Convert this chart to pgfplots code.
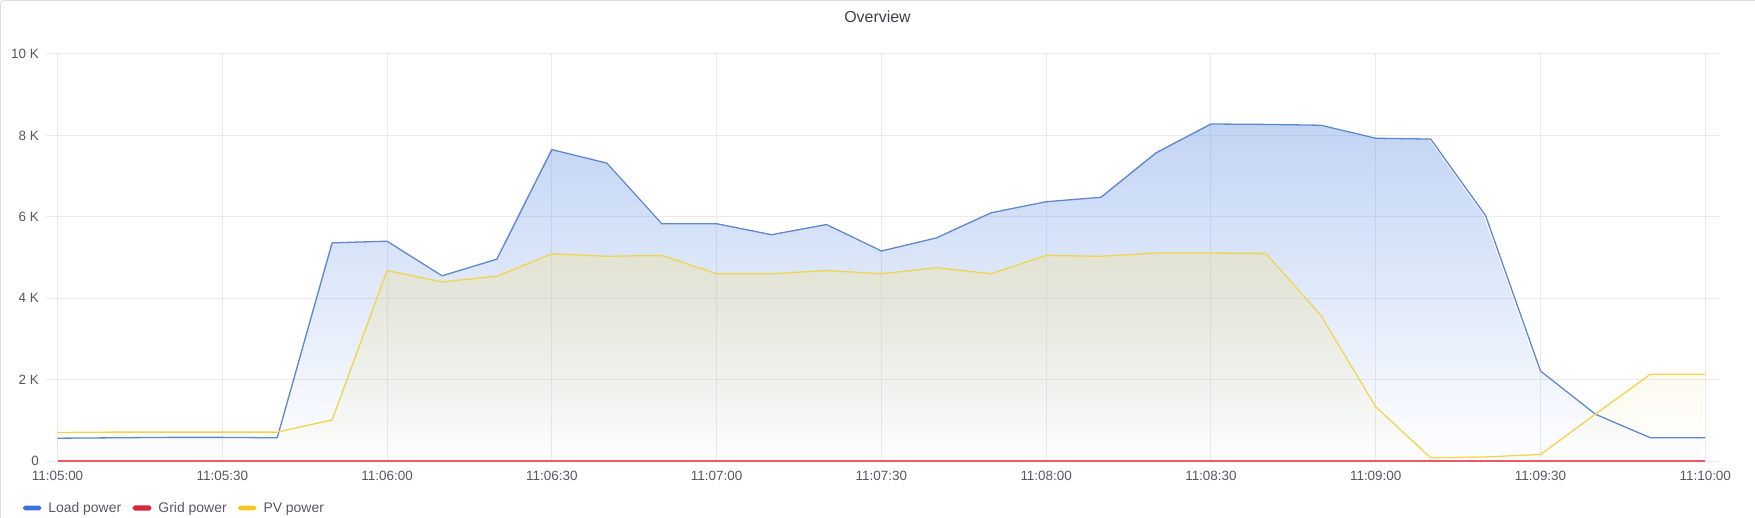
\documentclass[border=0pt]{standalone}
\usepackage{fontspec}
\setmainfont{Liberation Sans}
\usepackage{pgfplots}
\pgfplotsset{compat=1.18}
\usetikzlibrary{fadings}
\tikzfading[name=fadedown, top color=transparent!0, bottom color=transparent!100]
\definecolor{loadline}{RGB}{95,135,205}
\definecolor{loadfill}{RGB}{115,157,230}
\definecolor{pvline}{RGB}{240,212,80}
\definecolor{pvfill}{RGB}{240,225,150}
\definecolor{gridline}{RGB}{235,90,100}
\definecolor{legblue}{RGB}{60,115,220}
\definecolor{legred}{RGB}{215,40,60}
\definecolor{legyellow}{RGB}{240,200,30}
\definecolor{labelgray}{RGB}{85,88,95}
\definecolor{titlegray}{RGB}{60,64,70}
\definecolor{gridgray}{RGB}{234,234,236}
\definecolor{panel}{RGB}{222,222,226}

\pgfplotstableread{
t load
0 560
10 570
20 580
30 580
40 570
50 5360
60 5400
70 4550
80 4960
90 7650
100 7320
110 5830
120 5830
130 5560
140 5810
150 5160
160 5480
170 6100
180 6370
190 6480
200 7570
210 8280
220 8270
230 8250
240 7930
250 7910
260 6030
270 2210
280 1150
290 570
300 570
}\loaddata

\pgfplotstableread{
t pv
0 700
10 710
20 710
30 710
40 710
50 1010
60 4680
70 4400
80 4540
90 5090
100 5030
110 5050
120 4600
130 4600
140 4680
150 4600
160 4750
170 4600
180 5050
190 5030
200 5110
210 5110
220 5100
230 3580
240 1330
250 80
260 100
270 160
280 1150
290 2130
300 2130
}\pvdata

\pgfplotstableread{
t grid
0 0
10 0
20 0
30 0
40 0
50 0
60 0
70 0
80 0
90 0
100 0
110 0
120 0
130 0
140 0
150 0
160 0
170 0
180 0
190 0
200 0
210 0
220 0
230 0
240 0
250 0
260 0
270 0
280 0
290 0
300 0
}\griddata

\begin{document}
\begin{tikzpicture}
\path[use as bounding box] (-46bp,-57bp) rectangle (1709bp,461bp);
\draw[panel, line width=1bp, rounded corners=3bp] (-45.5bp,-60bp) -- (-45.5bp,460.5bp) -- (1712bp,460.5bp);
\begin{axis}[
  scale only axis,
  width=1673bp, height=407bp,
  at={(0,0)}, anchor=south west,
  xmin=-2.1, xmax=302.5,
  ymin=0, ymax=10000,
  clip=false,
  axis line style={draw=none},
  tick style={draw=none},
  major tick length=0pt,
  grid=major,
  major grid style={gridgray, line width=1bp},
  xtick={0,30,...,300},
  xticklabels={11:05:00,11:05:30,11:06:00,11:06:30,11:07:00,11:07:30,11:08:00,11:08:30,11:09:00,11:09:30,11:10:00},
  ytick={0,2000,4000,6000,8000,10000},
  yticklabels={0,2 K,4 K,6 K,8 K,10 K},
  scaled y ticks=false,
  /pgf/number format/assume math mode=true,
  ticklabel style={font=\fontsize{13.5}{16}\selectfont, text=labelgray},
  xticklabel style={anchor=center, inner sep=0pt, yshift=-15bp},
  yticklabel style={anchor=east, inner sep=0pt, xshift=-7bp},
  legend columns=-1,
  legend style={at={(0,0)}, anchor=west, xshift=-23bp, yshift=-47bp,
    draw=none, fill=none, inner sep=0pt, outer sep=0pt,
    font=\fontsize{14}{16}\selectfont, text=labelgray,
    nodes={inner sep=0pt},
    /tikz/every odd column/.append style={column sep=7bp},
    /tikz/every even column/.append style={column sep=11.5bp}},
]
% fills
\addplot[draw=none, fill=loadfill, fill opacity=0.44, path fading=fadedown, forget plot]
  table[x=t, y=load] {\loaddata} \closedcycle;
\addplot[draw=none, fill=pvfill, fill opacity=0.38, path fading=fadedown, forget plot]
  table[x=t, y=pv] {\pvdata} \closedcycle;
% lines
\addplot[loadline, line width=1.3bp, line join=round,
  legend image code/.code={\fill[legblue, rounded corners=1.5bp] (0bp,-1.7bp) rectangle (17bp,1.7bp);}]
  table[x=t, y=load] {\loaddata};
\addlegendentry{Load power}
\addplot[gridline, line width=1.8bp,
  legend image code/.code={\fill[legred, rounded corners=1.5bp] (0bp,-1.7bp) rectangle (17bp,1.7bp);}]
  table[x=t, y=grid] {\griddata};
\addlegendentry{Grid power}
\addplot[pvline, line width=1.3bp, line join=round,
  legend image code/.code={\fill[legyellow, rounded corners=1.5bp] (0bp,-1.7bp) rectangle (17bp,1.7bp);}]
  table[x=t, y=pv] {\pvdata};
\addlegendentry{PV power}
\end{axis}
\node[font=\fontsize{16}{19}\selectfont, text=titlegray] at (831.5bp,444bp) {Overview};
\end{tikzpicture}
\end{document}
